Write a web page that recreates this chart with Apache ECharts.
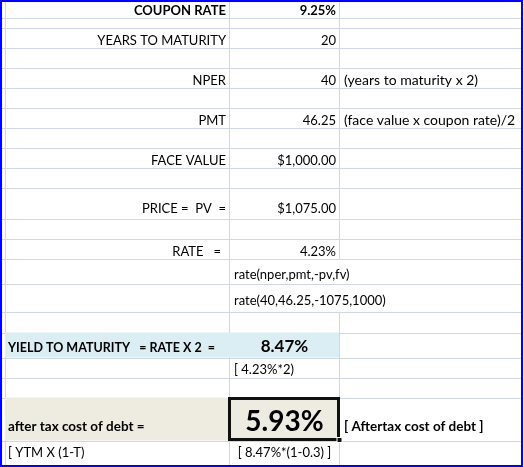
<!DOCTYPE html>
<html>
<head>
<meta charset="utf-8">
<script src="https://cdn.jsdelivr.net/npm/echarts@6/dist/echarts.min.js"></script>
<style>
html,body{margin:0;padding:0;background:#fff;}
#main{width:524px;height:467px;}
</style>
</head>
<body>
<div id="main"></div>
<script>
// ---- spreadsheet content (data) ----
const colALabels = ['COUPON RATE', '', 'YEARS TO MATURITY', '', 'NPER', '', 'PMT', '', 'FACE VALUE', '',
  'PRICE =  PV  =', '', 'RATE   =', '', '', '', 'YIELD TO MATURITY   = RATE X 2  =', '', '',
  'after tax cost of debt =', '[ YTM X (1-T)'];
const colBValues = ['9.25%', '', '20', '', '40', '', '46.25', '', '$1,000.00', '',
  '$1,075.00', '', '4.23%', 'rate(nper,pmt,-pv,fv)', 'rate(40,46.25,-1075,1000)', '', '8.47%', '[ 4.23%*2)', '',
  '5.93%', '[ 8.47%*(1-0.3) ]'];
const colCNotes = ['', '', '', '', '(years to maturity x 2)', '', '(face value x coupon rate)/2', '', '', '',
  '', '', '', '', '', '', '', '', '',
  '[ Aftertax cost of debt ]', ''];

// ---- layout ----
const rowEdges = [1, 18, 28, 48, 68, 88, 108, 128, 148, 168, 188, 219, 239, 259, 284, 312, 333, 358, 378, 398, 441, 466];
const rowBaselines = [15, 0, 45, 0, 85, 0, 125, 0, 165, 0, 213.5, 0, 256, 279, 305.5, 0, 352, 374, 0, 431, 457];
const colEdges = [5, 229, 339, 522];
const FONT = 'Lato, "Open Sans", sans-serif';
const GRID = '#d0d7e5';

// per-row style for each column: [align, bold, size, xOverride]
const aStyle = {0:['right',true,13], 12:['right',false,13,221], 16:['left',true,12.5], 19:['left',true,13.5], 20:['left',false,13]};
const bStyle = {0:['right',true,13], 13:['left',false,13], 14:['left',false,13], 16:['center',true,17], 17:['left',false,13], 19:['center',true,28], 20:['center',false,13]};
const cStyle = {19:['left',true,13.5]};

const g = [];
g.push({type:'rect', shape:{x:0,y:0,width:524,height:467}, style:{fill:'#fff'}, z:0});
// horizontal grid lines
rowEdges.forEach((y) => {
  g.push({type:'line', shape:{x1:2, y1:y+0.5, x2:522, y2:y+0.5}, style:{stroke:GRID, lineWidth:1}, z:1});
});
// vertical grid lines (skip where text overflows into next column)
colEdges.slice(0,3).forEach((x, ci) => {
  for (let r = 0; r < rowEdges.length - 1; r++) {
    if (ci === 2 && (r === 13 || r === 14)) continue;
    g.push({type:'line', shape:{x1:x+0.5, y1:rowEdges[r], x2:x+0.5, y2:rowEdges[r+1]}, style:{stroke:GRID, lineWidth:1}, z:1});
  }
});
// shaded cells
g.push({type:'rect', shape:{x:5, y:332.5, width:334, height:25}, style:{fill:'#daeef3'}, z:2});
g.push({type:'rect', shape:{x:5, y:397.5, width:334, height:43}, style:{fill:'#eeece1'}, z:2});
// highlighted (selected) cell border + fill handle
g.push({type:'rect', shape:{x:229.5, y:398.5, width:109, height:41}, style:{fill:'none', stroke:'#111', lineWidth:3}, z:5});
g.push({type:'rect', shape:{x:337, y:437.5, width:5, height:5}, style:{fill:'#111', stroke:'#fff', lineWidth:1}, z:6});

function addText(txt, st, col, r) {
  if (!txt) return;
  st = st || (col === 0 || col === 1 ? ['right', false, 13] : ['left', false, 14]);
  const align = st[0], bold = st[1], size = st[2] || 13;
  let x;
  if (st[3] !== undefined) x = st[3];
  else if (align === 'right') x = colEdges[col+1] - 3;
  else if (align === 'center') x = (colEdges[col] + colEdges[col+1]) / 2 + 0.5;
  else x = colEdges[col] + (col === 0 ? 3 : 5);
  const base = rowBaselines[r];
  g.push({type:'text', z:10, style:{text:txt, x:x, y:base - 0.3225 * size, font:(bold?'bold ':'') + size + 'px ' + FONT,
    fill:'#000', align:align, textAlign:align, verticalAlign:'middle', textVerticalAlign:'middle'}});
}
for (let r = 0; r < colALabels.length; r++) {
  addText(colALabels[r], aStyle[r], 0, r);
  addText(colBValues[r], bStyle[r], 1, r);
  addText(colCNotes[r], cStyle[r], 2, r);
}
// outer blue frame
g.push({type:'rect', shape:{x:1, y:1, width:521, height:465}, style:{fill:'none', stroke:'#0000ff', lineWidth:2}, z:20});

const chart = echarts.init(document.getElementById('main'), null, {renderer:'canvas'});
chart.setOption({animation:false, graphic:g});
</script>
</body>
</html>
